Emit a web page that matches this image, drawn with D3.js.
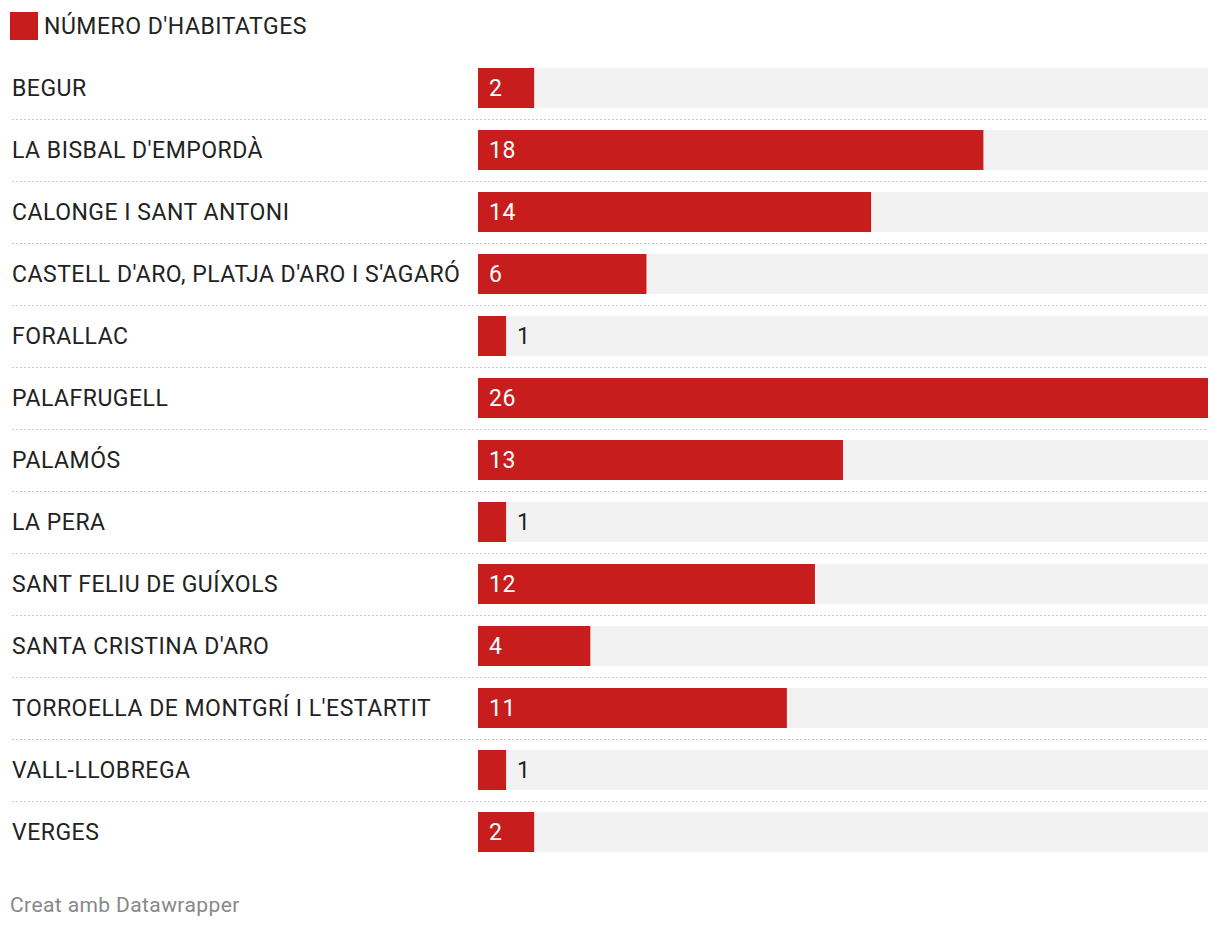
<!DOCTYPE html>
<html lang="ca">
<head>
<meta charset="utf-8">
<title>Número d'habitatges</title>
<script src="https://d3js.org/d3.v7.min.js"></script>
<style>
  body { margin: 0; background: #fff; font-family: Roboto, sans-serif; }
  svg text { font-family: Roboto, sans-serif; }
</style>
</head>
<body>
<script>
// data
var municipis = ["BEGUR", "LA BISBAL D'EMPORDÀ", "CALONGE I SANT ANTONI",
  "CASTELL D'ARO, PLATJA D'ARO I S'AGARÓ", "FORALLAC", "PALAFRUGELL", "PALAMÓS",
  "LA PERA", "SANT FELIU DE GUÍXOLS", "SANTA CRISTINA D'ARO",
  "TORROELLA DE MONTGRÍ I L'ESTARTIT", "VALL-LLOBREGA", "VERGES"];
var habitatges = [2, 18, 14, 6, 1, 26, 13, 1, 12, 4, 11, 1, 2];
var serieNom = "NÚMERO D'HABITATGES";
var credit = "Creat amb Datawrapper";

var w = 1220, h = 930;
var red = "#c71e1d";

var svg = d3.select("body").append("svg")
    .attr("width", w)
    .attr("height", h);

// legend
svg.append("rect")
    .attr("x", 10).attr("y", 12)
    .attr("width", 28).attr("height", 28)
    .attr("fill", red);
svg.append("text")
    .attr("x", 44).attr("y", 33.5)
    .attr("font-size", 23)
    .attr("letter-spacing", 0.5)
    .attr("fill", "#222")
    .text(serieNom);

// scales
var yScale = d3.scaleBand()
    .domain(municipis)
    .range([57, 863])
    .paddingInner(22 / 62)
    .paddingOuter(11 / 62);

var xScale = d3.scaleLinear()
    .domain([0, d3.max(habitatges)])
    .range([478, 1208]);

var rows = svg.selectAll("g.row")
    .data(municipis)
    .enter().append("g")
    .attr("class", "row");

// separators
rows.filter(function(d, i) { return i < municipis.length - 1; })
  .append("line")
    .attr("x1", 12).attr("x2", 1208)
    .attr("y1", function(d) { return yScale(d) + yScale.bandwidth() + 11.5; })
    .attr("y2", function(d) { return yScale(d) + yScale.bandwidth() + 11.5; })
    .attr("stroke", "#cccccc")
    .attr("stroke-width", 1)
    .attr("stroke-dasharray", "2,2");

// labels
rows.append("text")
    .attr("x", 12)
    .attr("y", function(d) { return yScale(d) + yScale.bandwidth() / 2 + 8.3; })
    .attr("font-size", 23)
    .attr("letter-spacing", 0.5)
    .attr("fill", "#222")
    .text(function(d) { return d; });

// background bars
rows.append("rect")
    .attr("x", xScale(0))
    .attr("y", function(d) { return yScale(d); })
    .attr("width", xScale.range()[1] - xScale(0))
    .attr("height", yScale.bandwidth())
    .attr("fill", "#f2f2f2");

// value bars
rows.append("rect")
    .attr("x", xScale(0))
    .attr("y", function(d) { return yScale(d); })
    .attr("width", function(d, i) { return xScale(habitatges[i]) - xScale(0); })
    .attr("height", yScale.bandwidth())
    .attr("fill", red);

// value labels
rows.append("text")
    .attr("x", function(d, i) {
      var bw = xScale(habitatges[i]) - xScale(0);
      return bw > 40 ? xScale(0) + 11 : xScale(habitatges[i]) + 11;
    })
    .attr("y", function(d) { return yScale(d) + yScale.bandwidth() / 2 + 8.3; })
    .attr("font-size", 23)
    .attr("letter-spacing", 0.5)
    .attr("fill", function(d, i) {
      return (xScale(habitatges[i]) - xScale(0)) > 40 ? "#fff" : "#222";
    })
    .text(function(d, i) { return habitatges[i]; });

// footer
svg.append("text")
    .attr("x", 10).attr("y", 912)
    .attr("font-size", 21)
    .attr("letter-spacing", 0.4)
    .attr("fill", "#888")
    .text(credit);
</script>
</body>
</html>
